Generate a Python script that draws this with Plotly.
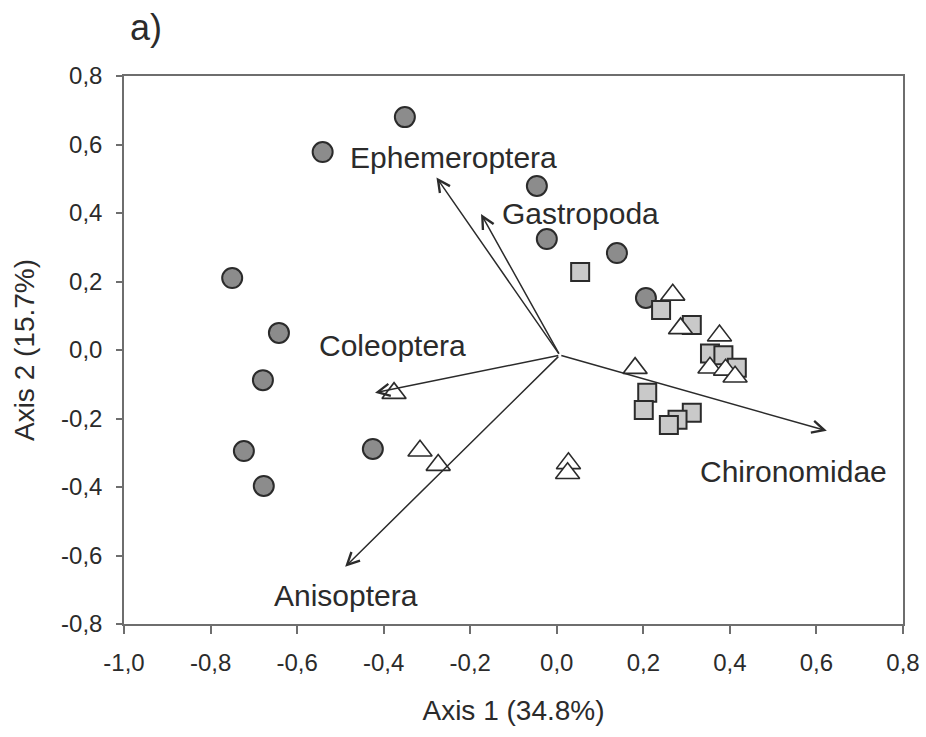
import plotly.graph_objects as go

# Site scores on the first two ordination axes, by group
circle_x = [-0.351, -0.541, -0.046, -0.023, 0.139, 0.206, -0.750, -0.642, -0.679, -0.723, -0.677, -0.425]
circle_y = [0.680, 0.578, 0.479, 0.324, 0.283, 0.152, 0.210, 0.050, -0.088, -0.295, -0.397, -0.289]

square_x = [0.054, 0.241, 0.312, 0.354, 0.385, 0.416, 0.209, 0.201, 0.312, 0.279, 0.259]
square_y = [0.228, 0.117, 0.073, -0.010, -0.015, -0.052, -0.125, -0.175, -0.183, -0.204, -0.219]

triangle_x = [0.268, 0.286, 0.376, 0.354, 0.390, 0.412, 0.181, -0.376, -0.316, -0.274, 0.027, 0.025]
triangle_y = [0.161, 0.063, 0.042, -0.052, -0.058, -0.078, -0.053, -0.126, -0.294, -0.336, -0.331, -0.360]

# Taxon biplot vectors (common origin and tips) and their labels
vector_origin = (0.007, -0.015)
taxa = ["Ephemeroptera", "Gastropoda", "Coleoptera", "Anisoptera", "Chironomidae"]
taxa_tip_x = [-0.278, -0.175, -0.420, -0.489, 0.624]
taxa_tip_y = [0.504, 0.397, -0.125, -0.633, -0.236]
label_x = [-0.238, -0.131, -0.554, -0.488, 0.548]
label_y = [0.563, 0.400, 0.012, -0.718, -0.356]
label_anchor = ["center", "left", "left", "center", "center"]

x_ticks = [-1.0, -0.8, -0.6, -0.4, -0.2, 0.0, 0.2, 0.4, 0.6, 0.8]
x_tick_text = ["-1,0", "-0,8", "-0,6", "-0,4", "-0,2", "0,0", "0,2", "0,4", "0,6", "0,8"]
y_ticks = [-0.8, -0.6, -0.4, -0.2, 0.0, 0.2, 0.4, 0.6, 0.8]
y_tick_text = ["-0,8", "-0,6", "-0,4", "-0,2", "0,0", "0,2", "0,4", "0,6", "0,8"]

FONT = "Liberation Sans, Arial, sans-serif"
INK = "#2b2b2b"
AXIS_GREY = "#6e6e6e"

W, H = 926, 737
M_L, M_R, M_T, M_B = 124, 23, 76, 113

fig = go.Figure()

fig.add_trace(go.Scatter(
    x=circle_x, y=circle_y, mode="markers",
    marker=dict(symbol="circle", size=20, color="#8c8c8c",
                line=dict(color=INK, width=2)),
    showlegend=False, hoverinfo="x+y"))

fig.add_trace(go.Scatter(
    x=square_x, y=square_y, mode="markers",
    marker=dict(symbol="square", size=18, color="#c9c9c9",
                line=dict(color=INK, width=2)),
    showlegend=False, hoverinfo="x+y"))

fig.add_trace(go.Scatter(
    x=triangle_x, y=triangle_y, mode="markers",
    marker=dict(symbol="triangle-up", size=21, color="white",
                line=dict(color=INK, width=1.6)),
    showlegend=False, hoverinfo="x+y"))

annotations = []
# arrows from the common origin to each taxon tip
for tx, ty in zip(taxa_tip_x, taxa_tip_y):
    annotations.append(dict(
        x=tx, y=ty, xref="x", yref="y",
        ax=vector_origin[0], ay=vector_origin[1], axref="x", ayref="y",
        showarrow=True, arrowhead=5, arrowsize=1.6, arrowwidth=1.5,
        arrowcolor=INK, standoff=0, startstandoff=0, text=""))

for name, lx, ly, anc in zip(taxa, label_x, label_y, label_anchor):
    annotations.append(dict(
        x=lx, y=ly, xref="x", yref="y", text=name, showarrow=False,
        xanchor=anc, yanchor="middle",
        font=dict(family=FONT, size=30, color=INK)))

# panel letter, placed in pixels relative to the plotting area
annotations.append(dict(
    x=(128 - M_L) / (W - M_L - M_R), y=1 + (M_T - 27) / (H - M_T - M_B),
    xref="paper", yref="paper", text="a)", showarrow=False,
    xanchor="left", yanchor="middle",
    font=dict(family=FONT, size=36, color=INK)))

fig.update_layout(
    width=W, height=H,
    margin=dict(l=M_L, r=M_R, t=M_T, b=M_B, autoexpand=False),
    paper_bgcolor="white", plot_bgcolor="white",
    font=dict(family=FONT, color=INK),
    annotations=annotations,
)

fig.update_xaxes(
    range=[-1.0, 0.8], tickvals=x_ticks, ticktext=x_tick_text,
    showgrid=False, zeroline=False, automargin=False,
    showline=True, linecolor=AXIS_GREY, linewidth=1.5, mirror=True,
    ticks="outside", ticklen=8, tickwidth=1.5, tickcolor=AXIS_GREY,
    ticklabelstandoff=8,
    tickfont=dict(family=FONT, size=24, color=INK),
    title=dict(text="Axis 1 (34.8%)", font=dict(family=FONT, size=28, color=INK), standoff=26),
)
fig.update_yaxes(
    range=[-0.8, 0.8], tickvals=y_ticks, ticktext=y_tick_text,
    showgrid=False, zeroline=False, automargin=False,
    showline=True, linecolor=AXIS_GREY, linewidth=1.5, mirror=True,
    ticks="outside", ticklen=6, tickwidth=1.5, tickcolor=AXIS_GREY,
    ticklabelstandoff=9,
    tickfont=dict(family=FONT, size=24, color=INK),
    title=dict(text="Axis 2 (15.7%)", font=dict(family=FONT, size=28, color=INK), standoff=18),
)

fig.write_html("out.html")
